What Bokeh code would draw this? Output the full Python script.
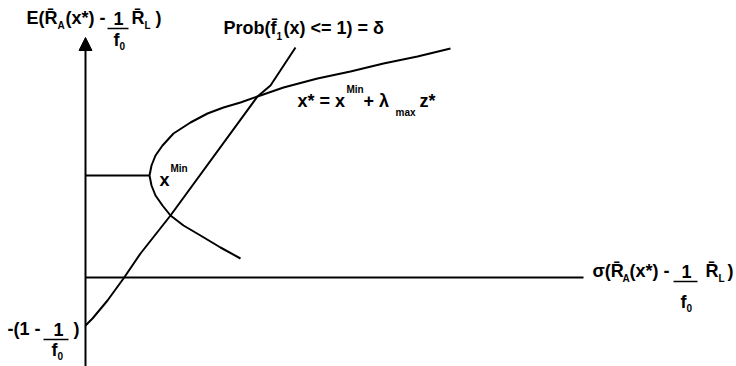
from bokeh.plotting import figure
from bokeh.models import Range1d, Label, Arrow, NormalHead
from bokeh.embed import file_html
from bokeh.resources import INLINE

# ---- data (chart units: origin where the two axes cross) ----
# efficient frontier: sigma (horizontal) and expected value (vertical)
frontier_sigma = [365, 332, 298, 265, 232, 198, 172, 155, 138, 122, 105, 88, 77, 70, 66,
                  64, 66, 70, 77, 85, 98, 115, 135, 155]
frontier_mean = [229, 221, 214, 206, 199, 190, 181, 175, 170, 164, 155, 144, 132, 122, 112,
                 102, 92, 82, 72, 62, 52, 42, 30, 19]

# shortfall constraint line Prob(f1(x) <= 1) = delta
constraint_sigma = [0, 7, 22, 38, 55, 85, 172, 185, 210]
constraint_mean = [-48, -41, -23, -1, 24, 62, 181, 192, 230]

# minimum-variance portfolio x^Min
min_var_sigma = 64
min_var_mean = 102

# axis extents
sigma_axis_end = 498
mean_axis_bottom = -89
mean_axis_top = 240

FONT = "Liberation Sans"

p = figure(width=736, height=366,
           x_range=Range1d(-85, 651), y_range=Range1d(-89, 277),
           x_axis_location=None, y_axis_location=None,
           output_backend="svg", toolbar_location=None, min_border=0)
p.grid.visible = False
p.outline_line_color = None
p.background_fill_color = "white"

# axes
p.segment(x0=[0], y0=[0], x1=[sigma_axis_end], y1=[0], line_color="black", line_width=2)
p.add_layout(Arrow(x_start=0, y_start=mean_axis_bottom, x_end=0, y_end=mean_axis_top,
                   line_color="black", line_width=2,
                   end=NormalHead(size=13, fill_color="black", line_color="black", line_width=1)))

# min variance level
p.segment(x0=[0], y0=[min_var_mean], x1=[min_var_sigma], y1=[min_var_mean],
          line_color="black", line_width=2)

# curves
p.line(frontier_sigma, frontier_mean, line_color="black", line_width=2)
p.line(constraint_sigma, constraint_mean, line_color="black", line_width=2)


def put(text, x, y, size=18):
    p.add_layout(Label(x=x, y=y + 0.4 * size, text=text, text_font=FONT, text_font_style="bold",
                       text_font_size=f"{size}px", text_color="black",
                       text_align="left", text_baseline="alphabetic"))


def bar(x0, x1, y):
    p.segment(x0=[x0], y0=[y], x1=[x1], y1=[y], line_color="black", line_width=1.5)


# vertical axis title  E(R_A(x*) - 1/f0 R_L)
put("E(R\u0304", -59, 252)
put("A", -28, 248, 10)
put("(x*) -", -20, 252)
put("1", 28, 252)
bar(22, 43, 249)
put("f", 28, 230)
put("0", 34, 228, 10)
put("R\u0304", 46, 252)
put("L", 59, 248, 10)
put(")", 70, 252)

# constraint title
put("Prob(f\u0304", 138, 242)
put("1", 191, 238, 10)
put("(x) <= 1) = \u03b4", 198, 242)

# frontier formula
put("x* = x", 212, 169)
put("Min", 261, 184, 10)
put(" + \u03bb", 278, 169)
put("max", 310, 161, 10)
put("z*", 334, 169)

# x^Min
put("x", 74, 90)
put("Min", 85, 105, 10)

# horizontal axis title sigma(R_A(x*) - 1/f0 R_L)
put("\u03c3(R\u0304", 507, -1)
put("A", 537, -5, 10)
put("(x*) -", 544, -1)
put("1", 596, -1)
bar(588, 612, -4)
put("f", 595, -32)
put("0", 601, -34, 10)
put("R\u0304", 620, -1)
put("L", 633, -5, 10)
put(")", 642, -1)

# intercept label -(1 - 1/f0)
put("-(1 - ", -78, -59)
put("1", -32, -59)
bar(-42, -17, -62)
put("f", -34, -80)
put("0", -28, -82, 10)
put(")", -12, -59)

open("out.html", "w").write(file_html(p, INLINE))
